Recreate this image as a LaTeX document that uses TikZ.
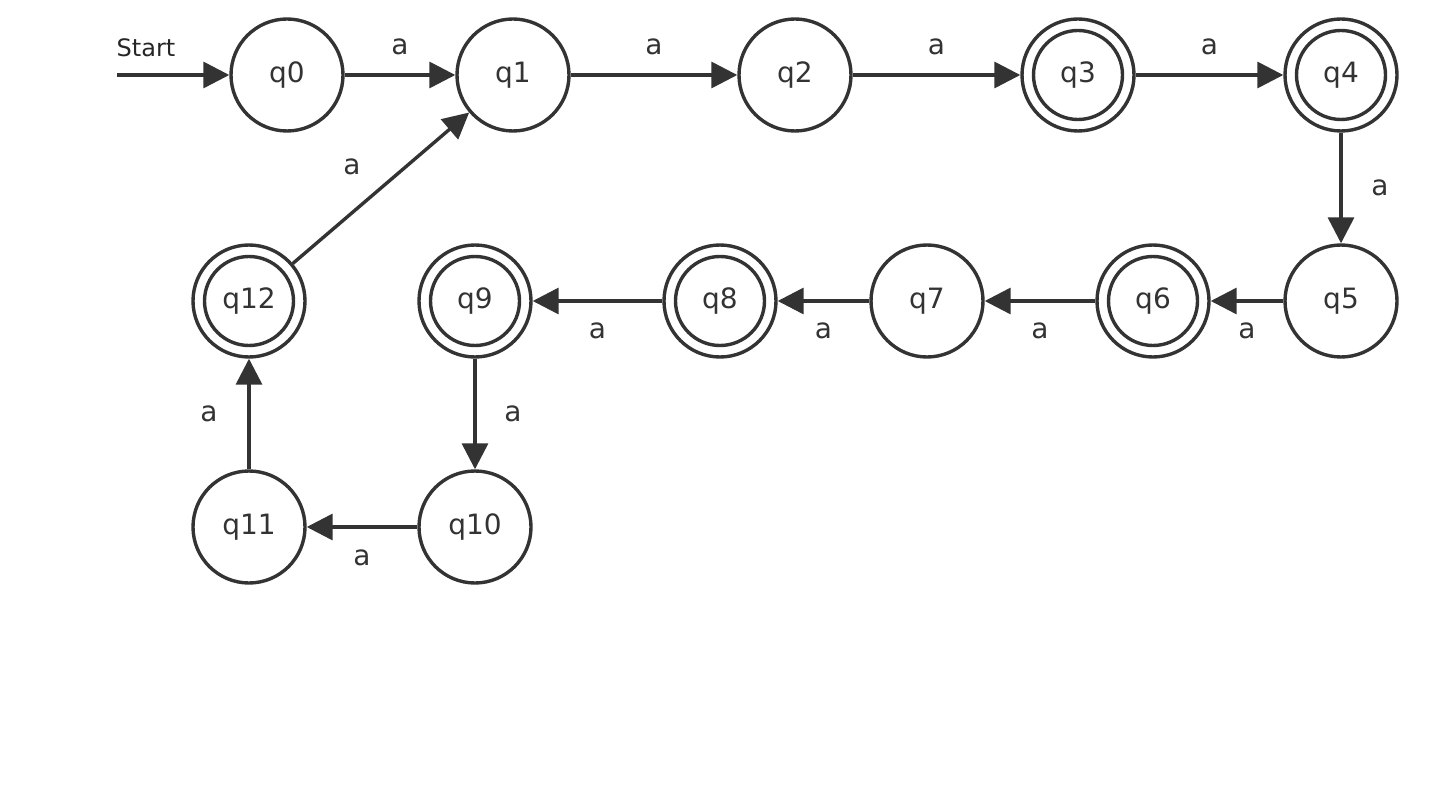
\documentclass[tikz,border=0pt]{standalone}
\usepackage{fontspec}
\setmainfont{DejaVu Sans}
\usetikzlibrary{arrows.meta}
\definecolor{ink}{HTML}{333333}
\tikzset{
  st/.style={circle, draw=ink, line width=3.4pt, minimum size=112pt, inner sep=0pt,
    text=ink, font=\fontsize{28}{34}\selectfont},
  acc/.style={st, path picture={\draw[ink, line width=3.4pt] (path picture bounding box.center) circle (44.5pt);}},
  tr/.style={draw=ink, line width=3.4pt, -{Triangle[length=26pt,width=26pt]}},
  lab/.style={text=ink, font=\fontsize{28}{34}\selectfont, inner sep=0pt}
}
\begin{document}
\begin{tikzpicture}[x=1pt,y=-1pt]
\useasboundingbox (0,0) rectangle (1440,810);
\node[st]  (q0)  at (287,75) {q0};
\node[st]  (q1)  at (513,75) {q1};
\node[st]  (q2)  at (795,75) {q2};
\node[acc] (q3)  at (1078,75) {q3};
\node[acc] (q4)  at (1341,75) {q4};
\node[st]  (q5)  at (1341,301) {q5};
\node[acc] (q6)  at (1153,301) {q6};
\node[st]  (q7)  at (927,301) {q7};
\node[acc] (q8)  at (720,301) {q8};
\node[acc] (q9)  at (475,301) {q9};
\node[acc] (q12) at (249,301) {q12};
\node[st]  (q10) at (475,527) {q10};
\node[st]  (q11) at (249,527) {q11};
\coordinate (s) at (117,75);
\node[font=\fontsize{24}{28}\selectfont, text=black!85, inner sep=0pt] (startlab) at (146,48) {Start};
\draw[tr] (s) -- (q0);
\draw[tr] (q0) -- node[lab, yshift=28pt] {a} (q1);
\draw[tr] (q1) -- node[lab, yshift=28pt] {a} (q2);
\draw[tr] (q2) -- node[lab, yshift=28pt] {a} (q3);
\draw[tr] (q3) -- node[lab, yshift=28pt] {a} (q4);
\draw[tr] (q4) -- node[lab, xshift=39pt] {a} (q5);
\draw[tr] (q5) -- node[lab, yshift=-30pt] {a} (q6);
\draw[tr] (q6) -- node[lab, yshift=-30pt] {a} (q7);
\draw[tr] (q7) -- node[lab, yshift=-30pt] {a} (q8);
\draw[tr] (q8) -- node[lab, yshift=-30pt] {a} (q9);
\draw[tr] (q9) -- node[lab, xshift=38pt] {a} (q10);
\draw[tr] (q10) -- node[lab, yshift=-31pt] {a} (q11);
\draw[tr] (q11) -- node[lab, xshift=-40pt] {a} (q12);
\draw[tr] (q12) -- node[lab, xshift=-29pt, yshift=21pt] {a} (q1);
\end{tikzpicture}
\end{document}
